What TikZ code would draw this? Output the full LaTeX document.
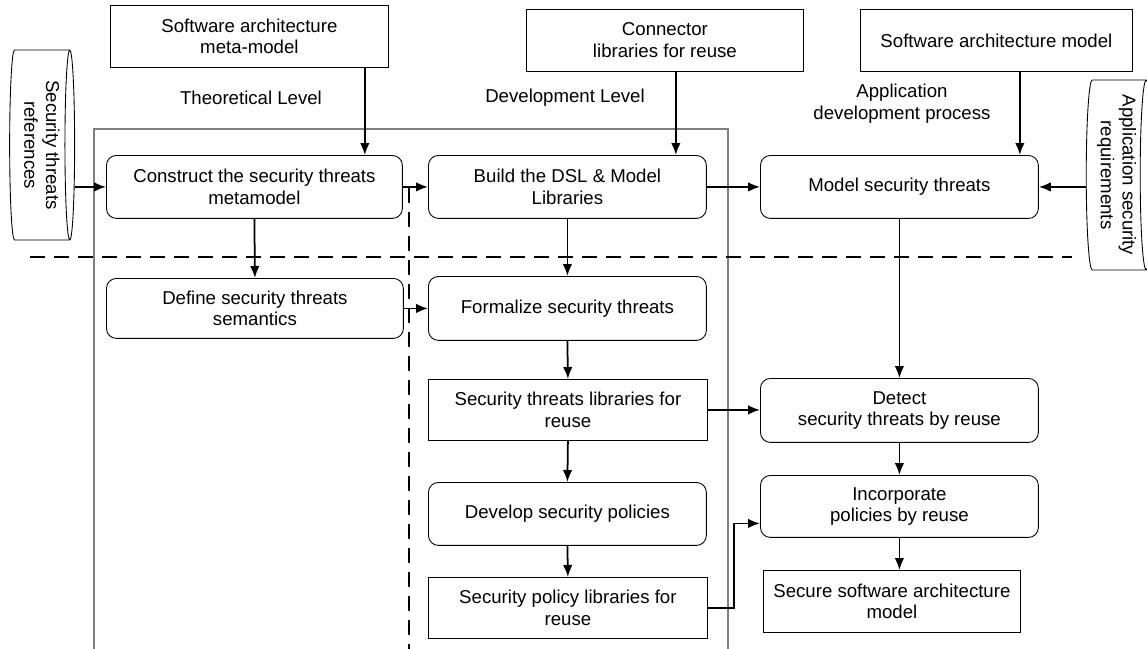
\documentclass[tikz,border=0pt]{standalone}
\usepackage{graphicx}
\usepackage{fontspec}
\setmainfont{Liberation Sans}
\usetikzlibrary{shapes.geometric}
\usetikzlibrary{arrows.meta}

\tikzset{
    plainbox/.style={draw, anchor=north west, align=center, inner sep=2pt, line width=0.5pt},
    roundbox/.style={plainbox, rounded corners=0.2cm},
    storage/.style={draw, cylinder, aspect=0.075, line width=0.5pt, inner sep=0pt},
    flow/.style={-{Latex[length=0.24cm,width=0.19cm]}, line width=1pt},
    levelline/.style={dash pattern=on 0.3cm off 0.18cm, line width=1.6pt},
}

\begin{document}
\begin{tikzpicture}[x=0.02cm, y=-0.02cm, font=\fontsize{10.6pt}{12.4pt}\selectfont]
    \clip (0,0) rectangle (1147,649);

    % inputs
    \node[plainbox, minimum width=5.56cm, minimum height=1.24cm] (meta) at (110,5) {Software architecture\\meta-model};
    \node[plainbox, minimum width=5.54cm, minimum height=1.24cm] (conn) at (526,9) {Connector\\libraries for reuse};
    \node[plainbox, minimum width=5.44cm, minimum height=1.24cm] (sam) at (860,9) {Software architecture model};
    \node[storage, minimum height=1.30cm, minimum width=3.80cm] (refs) at (39.5,145) {\rotatebox{-90}{\begin{tabular}{@{}c@{}}Security threats\\references\end{tabular}}};
    \node[storage, minimum height=1.32cm, minimum width=3.80cm] (reqs) at (1116,175) {\rotatebox{-90}{\begin{tabular}{@{}c@{}}Application security\\requirements\end{tabular}}};

    % levels
    \node (theo) at (251,98) {Theoretical Level};
    \node (devl) at (565,98) {Development Level};
    \node[align=center] (appl) at (902,104) {Application\\development process};
    \draw[gray, line width=0.6pt] (94,660) -- (94,129) -- (728,129) -- (728,660);
    \draw[levelline] (30,257) -- (1072,257);
    \draw[levelline] (409,188) -- (409,660);

    % process steps
    \node[roundbox, minimum width=5.92cm, minimum height=1.26cm] (construct) at (106,155) {Construct the security threats\\metamodel};
    \node[roundbox, minimum width=5.56cm, minimum height=1.26cm] (build) at (428,155) {Build the DSL \& Model\\Libraries};
    \node[roundbox, minimum width=5.56cm, minimum height=1.26cm] (model) at (760,155) {Model security threats};
    \node[roundbox, minimum width=5.94cm, minimum height=1.20cm] (define) at (106,278) {Define security threats\\semantics};
    \node[roundbox, minimum width=5.56cm, minimum height=1.28cm] (formalize) at (428,276) {Formalize security threats};
    \node[plainbox, minimum width=5.58cm, minimum height=1.22cm] (threatlib) at (428,379) {Security threats libraries for\\reuse};
    \node[roundbox, minimum width=5.56cm, minimum height=1.28cm] (detect) at (760,378) {Detect\\security threats by reuse};
    \node[roundbox, minimum width=5.56cm, minimum height=1.26cm] (develop) at (428,482) {Develop security policies};
    \node[roundbox, minimum width=5.56cm, minimum height=1.24cm] (incorporate) at (760,475) {Incorporate\\policies by reuse};
    \node[plainbox, minimum width=5.58cm, minimum height=1.22cm] (policylib) at (428,577) {Security policy libraries for\\reuse};
    \node[plainbox, minimum width=5.14cm, minimum height=1.24cm] (secure) at (763,570) {Secure software architecture\\model};

    % connectors
    \draw[flow] (refs.east |- construct.west) -- (construct.west);
    \draw[flow] ([xshift=-0.48cm]meta.south east) -- ([xshift=-0.48cm]meta.south east |- construct.north);
    \draw[flow] ([xshift=-2.56cm]conn.south east) -- ([xshift=-2.56cm]conn.south east |- build.north);
    \draw[flow] ([xshift=-2.26cm]sam.south east) -- ([xshift=-2.26cm]sam.south east |- model.north);
    \draw[flow] (reqs.west |- model.east) -- (model.east);
    \draw[flow] (construct.east) -- (build.west);
    \draw[flow] (build.east) -- (model.west);
    \draw[flow] (construct.south) -- (define.north);
    \draw[flow] (build.south) -- (formalize.north);
    \draw[flow] (define.east) -- (define.east -| formalize.west);
    \draw[flow] (formalize.south) -- (threatlib.north);
    \draw[flow] (threatlib.south) -- (develop.north);
    \draw[flow] (develop.south) -- (policylib.north);
    \draw[flow] (model.south) -- (detect.north);
    \draw[flow] (threatlib.east) -- (threatlib.east -| detect.west);
    \draw[flow] (detect.south) -- (incorporate.north);
    \draw[flow] (incorporate.south) -- (incorporate.south |- secure.north);
    \draw[flow] (policylib.east) -- ++(0.52cm,0) |- ([yshift=-0.34cm]incorporate.west);
\end{tikzpicture}
\end{document}
